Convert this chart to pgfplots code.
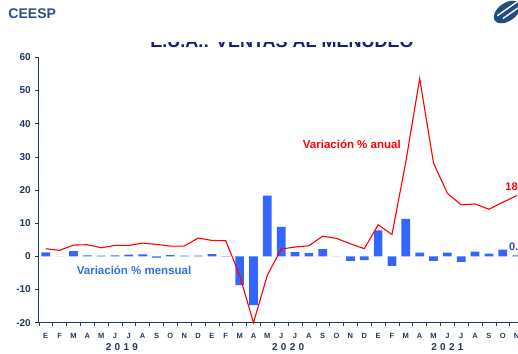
\documentclass[border=0pt]{standalone}
\usepackage{pgfplots}
\pgfplotsset{compat=1.18}
\usepackage{fontspec}
\setmainfont{Liberation Sans}
\definecolor{axnavy}{HTML}{1F3A60}
\definecolor{titlenavy}{HTML}{1A1F71}
\definecolor{ceespblue}{HTML}{2B5080}
\definecolor{logoblue}{HTML}{1F4F7F}
\definecolor{barblue}{HTML}{3366FF}
\definecolor{txtblue}{HTML}{2F6FE6}
\definecolor{lblblue}{HTML}{2250C0}
\begin{document}
\begin{tikzpicture}
% title, partly hidden
\begin{scope}
\clip (0pt,0pt) rectangle (518pt,310.5pt);
\node[anchor=base, inner sep=0, font=\bfseries\fontsize{18}{20}\selectfont, text=titlenavy] at (282pt,305.5pt) {E.U.A.: VENTAS AL MENUDEO};
\end{scope}
\node[anchor=base west, inner sep=0, font=\bfseries\fontsize{14}{16}\selectfont, text=ceespblue] at (8.3pt,334.5pt) {CEESP};
% logo
\begin{scope}
\clip[rotate around={35:(507pt,341pt)}] (507pt,341pt) ellipse (15pt and 9pt);
\fill[logoblue] (488pt,326pt) rectangle (526pt,356pt);
\draw[white, line width=1.4pt, rotate around={35:(507pt,341pt)}] (497pt,343.5pt) -- (525pt,343.5pt);
\draw[white, line width=1.4pt, rotate around={35:(507pt,341pt)}] (500pt,338pt) -- (525pt,338pt);
\end{scope}
\begin{axis}[
  at={(38.8pt,30.3pt)}, anchor=south west,
  scale only axis, width=498.6pt, height=265.4pt,
  xmin=-0.5, xmax=35.5, ymin=-20, ymax=60,
  clip=false,
  axis x line=bottom, axis y line=left,
  axis line style={-, draw=axnavy, line width=0.9pt},
  ytick={-20,-10,...,60},
  yticklabels={-20,-10,0,10,20,30,40,50,60},
  xtick={0,...,34},
  xticklabels={E,F,M,A,M,J,J,A,S,O,N,D,E,F,M,A,M,J,J,A,S,O,N,D,E,F,M,A,M,J,J,A,S,O,N},
  minor xtick={-0.5,0.5,...,35.5},
  tick align=outside,
  major tick length=3.5pt, minor tick length=3pt,
  every major x tick/.append style={draw=none},
  every minor x tick/.append style={draw=axnavy, line width=0.6pt},
  ytick style={draw=axnavy, line width=0.6pt},
  yticklabel style={font=\bfseries\fontsize{10}{12}\selectfont, text=axnavy, xshift=-1pt},
  xticklabel style={font=\bfseries\fontsize{7.5}{9}\selectfont, text=axnavy, yshift=-3.5pt},
]
\addplot[ybar, bar width=8.7pt, fill=barblue, draw=none] coordinates {
(0,1.2) (1,0.0) (2,1.6) (3,0.3) (4,0.2) (5,0.3) (6,0.5) (7,0.6) (8,-0.4) (9,0.4) (10,0.2) (11,0.2)
(12,0.7) (13,0.1) (14,-8.7) (15,-14.7) (16,18.3) (17,8.9) (18,1.3) (19,1.0) (20,2.2) (21,0.0) (22,-1.4) (23,-1.1)
(24,7.8) (25,-2.9) (26,11.3) (27,1.1) (28,-1.4) (29,1.1) (30,-1.7) (31,1.4) (32,0.8) (33,2.0) (34,0.3)
};
\addplot[red, line width=1.1pt, sharp plot, mark=none] coordinates {
(0,2.3) (1,1.8) (2,3.4) (3,3.5) (4,2.6) (5,3.3) (6,3.3) (7,4.0) (8,3.6) (9,3.1) (10,3.1) (11,5.5)
(12,4.8) (13,4.7) (14,-5.7) (15,-20.0) (16,-5.7) (17,2.2) (18,2.8) (19,3.2) (20,6.1) (21,5.4) (22,3.8) (23,2.3)
(24,9.5) (25,6.6) (26,28.5) (27,53.6) (28,28.1) (29,19.0) (30,15.5) (31,15.8) (32,14.2) (33,16.3) (34,18.3)
};
\node[font=\bfseries\fontsize{11.5}{13}\selectfont, text=red] at (axis cs:22.1,33.9) {Variación \% anual};
\node[font=\bfseries\fontsize{11.5}{13}\selectfont, text=txtblue] at (axis cs:6.38,-4.1) {Variación \% mensual};
\node[anchor=west, inner sep=0, font=\bfseries\fontsize{11}{13}\selectfont, text=red] at (axis cs:33.18,20.9) {18.3};
\node[anchor=west, inner sep=0, font=\bfseries\fontsize{11}{13}\selectfont, text=lblblue] at (axis cs:33.45,3.0) {0.3};
\node[font=\bfseries\fontsize{10}{12}\selectfont, text=axnavy] at (axis cs:5.5,-20) [yshift=-24.5pt] {2\hspace{3.3pt}0\hspace{3.3pt}1\hspace{3.3pt}9};
\node[font=\bfseries\fontsize{10}{12}\selectfont, text=axnavy] at (axis cs:17.5,-20) [yshift=-24.5pt] {2\hspace{3.3pt}0\hspace{3.3pt}2\hspace{3.3pt}0};
\node[font=\bfseries\fontsize{10}{12}\selectfont, text=axnavy] at (axis cs:29.0,-20) [yshift=-24.5pt] {2\hspace{3.3pt}0\hspace{3.3pt}2\hspace{3.3pt}1};
\end{axis}
\pgfresetboundingbox
\useasboundingbox (0pt,0pt) rectangle (518pt,353pt);
\end{tikzpicture}
\end{document}
